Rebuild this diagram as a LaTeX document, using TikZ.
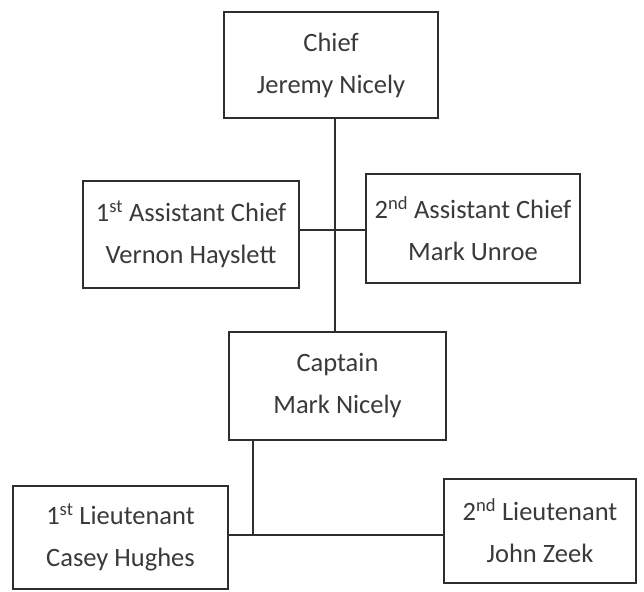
\documentclass[tikz,border=0pt]{standalone}
\usepackage{fontspec}
\setmainfont{Carlito}
\definecolor{inkline}{HTML}{2E2E2E}
\definecolor{inktext}{HTML}{3A3A3A}
\tikzset{
  rankbox/.style={draw=inkline, line width=1.6pt, inner sep=0pt, align=center,
    text=inktext, font=\fontsize{26.5}{42}\selectfont},
  link/.style={draw=inkline, line width=1.6pt}
}
\begin{document}
\begin{tikzpicture}[x=1pt,y=1pt]
\fill[white] (0,0) rectangle (644,591);
\useasboundingbox (0,0) rectangle (644,591);
\node[rankbox, minimum width=214pt, minimum height=106pt] (chief) at (331,526) {Chief\\Jeremy Nicely};
\node[rankbox, minimum width=216pt, minimum height=107pt] (a1) at (191,356.5) {1\textsuperscript{st} Assistant Chief\\Vernon Hayslett};
\node[rankbox, minimum width=214pt, minimum height=109pt] (a2) at (473,362.5) {2\textsuperscript{nd} Assistant Chief\\Mark Unroe};
\node[rankbox, minimum width=217pt, minimum height=108pt] (cap) at (337.5,205) {Captain\\Mark Nicely};
\node[rankbox, minimum width=215pt, minimum height=103pt] (l1) at (120.5,53.5) {1\textsuperscript{st} Lieutenant\\Casey Hughes};
\node[rankbox, minimum width=192pt, minimum height=104pt] (l2) at (540,60) {2\textsuperscript{nd} Lieutenant\\John Zeek};
\coordinate (spine) at (335,361);
\coordinate (j) at (253,56);
\draw[link] (chief.south -| spine) -- (cap.north -| spine);
\draw[link] (a1.east |- spine) -- (a2.west |- spine);
\draw[link] (cap.south -| j) -- (j);
\draw[link] (l1.east |- j) -- (l2.west |- j);
\end{tikzpicture}
\end{document}
